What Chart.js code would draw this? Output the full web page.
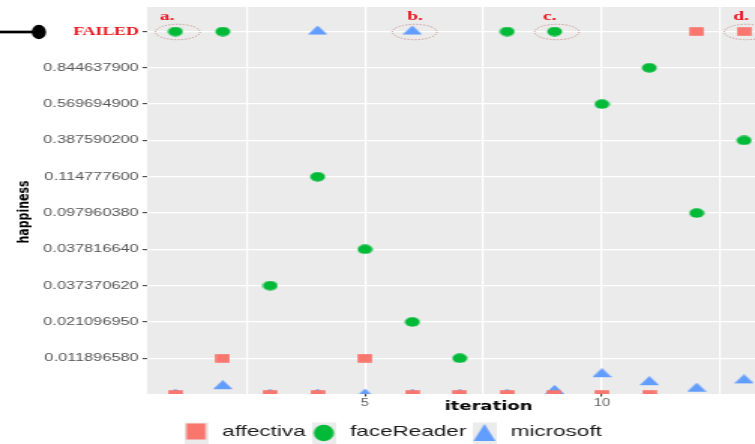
<!DOCTYPE html>
<html>
<head>
<meta charset="utf-8">
<script src="https://cdn.jsdelivr.net/npm/chart.js@4/dist/chart.umd.min.js"></script>
<style>
  html, body { margin: 0; padding: 0; background: #ffffff; overflow: hidden; }
</style>
</head>
<body>
<canvas id="plot" width="503" height="444" style="display:block;width:755px;height:444px"></canvas>
<script>
// Happiness levels from bottom to top; position 0 is the unlabeled baseline row.
const happinessLevels = ['', '0.011896580', '0.021096950', '0.037370620', '0.037816640',
  '0.097960380', '0.114777600', '0.387590200', '0.569694900', '0.844637900', 'FAILED'];

const iterations = [1, 2, 3, 4, 5, 6, 7, 8, 9, 10, 11, 12, 13];
// Positions on the happiness axis, one per iteration.
const affectiva  = [0, 1, 0, 0, 1, 0, 0, 0, 0, 0, 0, 10, 10];
const faceReader = [10, 10, 3, 6, 4, 2, 1, 10, 10, 8, 9, 5, 7];
// microsoft has two readings at iterations 4 and 6.
const microsoftIteration = [1, 2, 3, 4, 4, 5, 6, 6, 7, 8, 9, 10, 11, 12, 13];
const microsoft          = [0, 0.23, 0, 10, 0, 0, 10, 0, 0, 0, 0.10, 0.56, 0.34, 0.16, 0.39];

const xGridValues = [2.5, 5, 7.5, 10, 12.5];
const xTickLabels = [5, 10];

// Failed runs that get circled.
const circled = [
  { label: 'a.', iteration: 1 },
  { label: 'b.', iteration: 6 },
  { label: 'c.', iteration: 9 },
  { label: 'd.', iteration: 13 }
];

const RED = '#e8141c';
const COLORS = { affectiva: '#F8766D', faceReader: '#00BA38', microsoft: '#619CFF' };
const PANEL = '#EBEBEB';
const labelShift = { 'a.': -5.5, 'b.': 1.7, 'c.': -3.3, 'd.': -2 };
const LEFT_PAD = 18.6;

function markerCanvas(w, h, draw) {
  const c = document.createElement('canvas');
  c.width = w; c.height = h;
  draw(c.getContext('2d'), w, h);
  return c;
}

// Plot markers
const squareMark = markerCanvas(10, 9, g => {
  g.fillStyle = COLORS.affectiva; g.fillRect(0.2, 0.2, 9.6, 8.6);
});
const dotMark = markerCanvas(11, 10, g => {
  g.fillStyle = COLORS.faceReader; g.beginPath();
  g.ellipse(5.5, 5, 5, 4.7, 0, 0, Math.PI * 2); g.fill();
});
const triMark = markerCanvas(13, 12, g => {
  g.fillStyle = COLORS.microsoft; g.beginPath();
  g.moveTo(6.5, 0); g.lineTo(13, 9); g.lineTo(0, 9); g.closePath(); g.fill();
});

// Legend keys with the grey key background
function legendKey(drawShape) {
  return markerCanvas(16, 24, (g, w, h) => {
    g.fillStyle = PANEL; g.fillRect(0, 0, w, h);
    drawShape(g);
  });
}
const legendKeys = [
  legendKey(g => { g.fillStyle = COLORS.affectiva; g.fillRect(1.6, 3.5, 12.8, 16); }),
  legendKey(g => { g.fillStyle = COLORS.faceReader; g.beginPath();
    g.ellipse(8, 13, 6.7, 8.3, 0, 0, Math.PI * 2); g.fill(); }),
  legendKey(g => { g.fillStyle = COLORS.microsoft; g.beginPath();
    g.moveTo(8, 4); g.lineTo(15.3, 21); g.lineTo(0.7, 21); g.closePath(); g.fill(); })
];

const failedIndex = happinessLevels.indexOf('FAILED');
const isFailedTick = c => !!(c && c.tick && happinessLevels[c.tick.value] === 'FAILED');

const panelBackground = {
  id: 'panelBackground',
  beforeDraw(chart) {
    const { ctx, chartArea: a } = chart;
    ctx.save();
    ctx.fillStyle = PANEL;
    ctx.fillRect(a.left, a.top, a.right - a.left, a.bottom - a.top);
    ctx.restore();
  }
};

const failedMarks = {
  id: 'failedMarks',
  afterDraw(chart) {
    const { ctx, scales: { x, y } } = chart;
    const yf = y.getPixelForValue(failedIndex) + 0.5;
    ctx.save();
    // leader line and dot pointing at the FAILED row
    ctx.strokeStyle = '#000'; ctx.lineWidth = 2.7;
    ctx.beginPath(); ctx.moveTo(0, yf); ctx.lineTo(25.9, yf); ctx.stroke();
    ctx.fillStyle = '#000';
    ctx.beginPath(); ctx.ellipse(25.9, yf, 4.8, 7.2, 0, 0, Math.PI * 2); ctx.fill();
    // dotted rings and letters
    circled.forEach(c => {
      const px = x.getPixelForValue(c.iteration);
      ctx.setLineDash([1, 1.4]);
      ctx.strokeStyle = 'rgba(185,105,105,0.85)';
      ctx.lineWidth = 0.9;
      ctx.beginPath(); ctx.ellipse(px + 1.5, yf, 14.8, 7.7, 0, 0, Math.PI * 2); ctx.stroke();
      ctx.setLineDash([]);
      ctx.fillStyle = RED;
      ctx.font = 'bold 13px "Liberation Serif", serif';
      ctx.textAlign = 'center';
      ctx.textBaseline = 'alphabetic';
      ctx.fillText(c.label, px + labelShift[c.label], yf - 12.5);
    });
    ctx.restore();
  }
};

Chart.defaults.font.family = '"Liberation Sans", Arial, sans-serif';

new Chart(document.getElementById('plot'), {
  type: 'scatter',
  data: {
    datasets: [
      { label: 'affectiva', data: iterations.map((it, i) => ({ x: it, y: affectiva[i] })),
        pointStyle: squareMark, pointRadius: 5, clip: 0 },
      { label: 'faceReader', data: iterations.map((it, i) => ({ x: it, y: faceReader[i] })),
        pointStyle: dotMark, pointRadius: 5, clip: 0 },
      { label: 'microsoft', data: microsoftIteration.map((it, i) => ({ x: it, y: microsoft[i] })),
        pointStyle: triMark, pointRadius: 5, clip: 0 }
    ]
  },
  options: {
    responsive: false,
    maintainAspectRatio: false,
    devicePixelRatio: 1,
    animation: false,
    events: [],
    layout: { autoPadding: false, padding: { top: 7, right: 0, bottom: -5.5, left: LEFT_PAD } },
    scales: {
      x: {
        type: 'linear', min: 0.4, max: 13.23,
        afterBuildTicks: s => { s.ticks = xGridValues.map(v => ({ value: v })); },
        afterFit: s => { s.height = 28.5; s.paddingLeft = 0; s.paddingRight = 0; },
        border: { display: false },
        grid: {
          color: '#FFFFFF', lineWidth: 1.2, drawTicks: true, tickLength: 2.5, tickWidth: 1,
          tickColor: c => (c && c.tick && xTickLabels.includes(c.tick.value)) ? '#333333' : 'rgba(0,0,0,0)'
        },
        ticks: {
          autoSkip: false, maxRotation: 0, minRotation: 0, padding: 1.2, color: '#666666',
          font: { size: 10 },
          callback: v => xTickLabels.includes(v) ? String(v) : ''
        },
        title: {
          display: true, text: '\u00a0'.repeat(12) + 'iteration', color: '#000000',
          font: { family: '"DejaVu Sans", sans-serif', weight: 'bold', size: 12 },
          padding: { top: 0, bottom: 8.8 }
        }
      },
      y: {
        type: 'linear', min: 0.014, max: 10.675,
        afterBuildTicks: s => {
          s.ticks = happinessLevels.map((_, i) => ({ value: i })).filter(t => t.value >= 1);
        },
        afterFit: s => { s.width = 97.9 - LEFT_PAD; s.paddingTop = 0; s.paddingBottom = 0; },
        border: { display: false },
        grid: { color: '#FFFFFF', lineWidth: 1.3, drawTicks: true, tickLength: 3, tickWidth: 1, tickColor: '#333333' },
        ticks: {
          padding: 2.5,
          color: c => isFailedTick(c) ? RED : '#555555',
          font: c => isFailedTick(c)
            ? { family: '"Liberation Serif", serif', weight: 'bold', size: 11.8 }
            : { family: '"Liberation Sans", Arial, sans-serif', size: 10.9 },
          callback: v => happinessLevels[v]
        },
        title: {
          display: true, text: 'happiness' + '\u00a0'.repeat(6), color: '#000000',
          font: { family: '"DejaVu Sans", sans-serif', weight: 'bold', size: 11 },
          padding: { top: 9.5 - LEFT_PAD, bottom: 0 }
        }
      }
    },
    plugins: {
      legend: {
        display: true, position: 'bottom', align: 'center',
        labels: {
          usePointStyle: true, pointStyleWidth: 20, padding: 2, color: '#1a1a1a',
          font: { size: 15 },
          generateLabels: chart => chart.data.datasets.map((ds, i) => ({
            text: ds.label, pointStyle: legendKeys[i], fillStyle: 'rgba(0,0,0,0)',
            strokeStyle: 'rgba(0,0,0,0)', lineWidth: 0, hidden: false, datasetIndex: i,
            fontColor: '#1a1a1a'
          }))
        }
      },
      tooltip: { enabled: false }
    }
  },
  plugins: [panelBackground, failedMarks]
});
</script>
</body>
</html>
